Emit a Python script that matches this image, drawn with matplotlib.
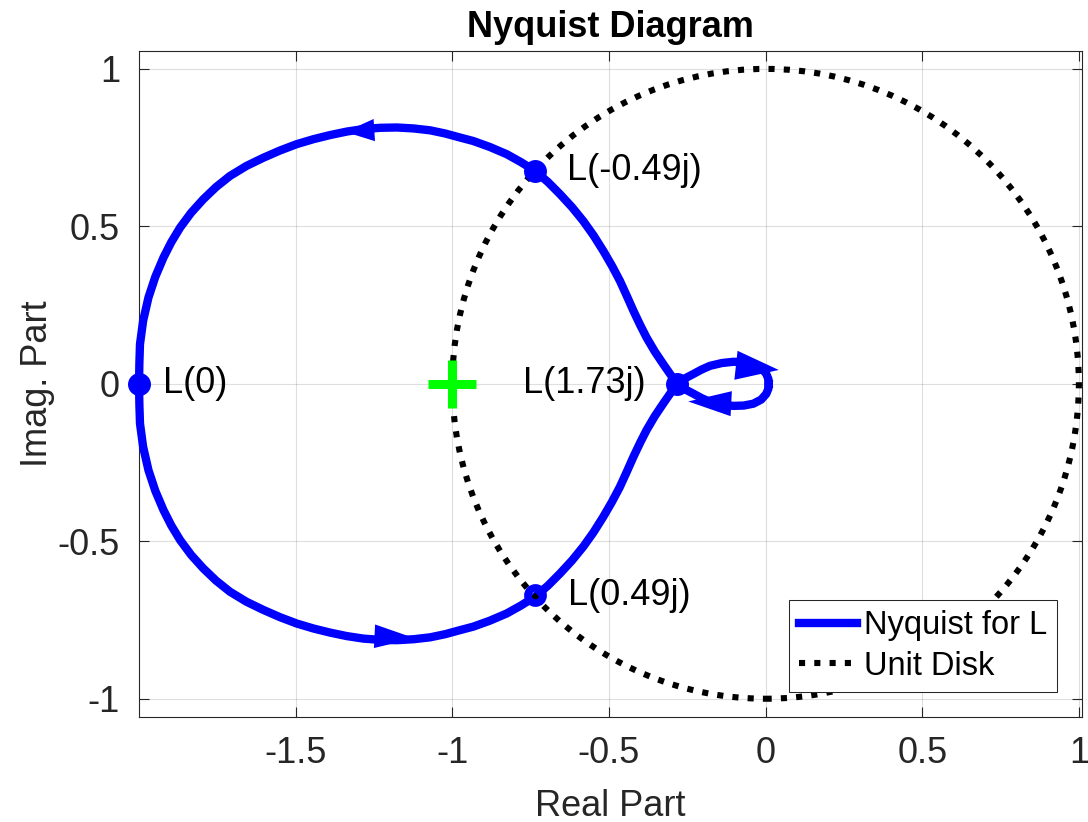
import matplotlib
matplotlib.use('Agg')
import numpy as np
import matplotlib.pyplot as plt
from matplotlib.lines import Line2D
from matplotlib.patches import Circle

plt.rcParams['font.family'] = ['Liberation Sans', 'DejaVu Sans']

# L(jw) for w >= 0 (w < 0 branch is the mirror image)
re_pos = [-2.000, -1.999, -1.997, -1.987, -1.970, -1.948, -1.922, -1.897, -1.869,
          -1.834, -1.795, -1.754, -1.710, -1.657, -1.603, -1.550, -1.497, -1.443,
          -1.390, -1.337, -1.284, -1.230, -1.177, -1.124, -1.071, -1.023, -0.975,
          -0.933, -0.880, -0.826, -0.781, -0.736, -0.695, -0.656, -0.618, -0.582,
          -0.549, -0.518, -0.490, -0.465, -0.443, -0.422, -0.401, -0.380, -0.354,
          -0.327, -0.304, -0.283,
          -0.258, -0.231, -0.205, -0.178, -0.140, -0.103, -0.070, -0.039, -0.014,
          0.002, 0.009, 0.010]
im_pos = [0.000, -0.063, -0.126, -0.200, -0.274, -0.340, -0.401, -0.450, -0.496,
          -0.543, -0.586, -0.625, -0.660, -0.692, -0.718, -0.741, -0.761, -0.777,
          -0.790, -0.801, -0.809, -0.813, -0.814, -0.811, -0.805, -0.795, -0.782,
          -0.771, -0.752, -0.729, -0.704, -0.676, -0.641, -0.602, -0.561, -0.517,
          -0.471, -0.422, -0.374, -0.327, -0.279, -0.232, -0.188, -0.147, -0.103,
          -0.063, -0.030, 0.000,
          0.017, 0.031, 0.045, 0.057, 0.066, 0.070, 0.069, 0.063, 0.050,
          0.032, 0.015, 0.000]

# labelled points
pt_re = [-2.0, -0.736, -0.736, -0.283]
pt_im = [0.0, 0.676, -0.672, 0.0]
pt_txt = ['L(0)', 'L(-0.49j)', 'L(0.49j)', 'L(1.73j)']
txt_re = [-1.923, -0.635, -0.631, -0.383]
txt_ha = ['left', 'left', 'left', 'right']

# direction arrows: tip, tail, head length / width (pt)
arr_tip = [(-1.342, 0.800), (-1.120, -0.808), (0.042, 0.044), (-0.247, -0.056)]
arr_tail = [(-1.150, 0.812), (-1.320, -0.798), (-0.160, 0.066), (-0.050, -0.066)]
arr_len = [21, 29, 31, 31]
arr_wid = [16, 17, 21, 18]

re_full = list(reversed(re_pos)) + re_pos
im_full = [-v for v in reversed(im_pos)] + im_pos

fig = plt.figure(figsize=(10.88, 8.22), dpi=100)
ax = fig.add_axes([0.1278, 0.1281, 0.8667, 0.8099])

dots = (0, (1, 1.5))
nyq, = ax.plot(re_full, im_full, color='blue', lw=6, clip_on=False, zorder=3,
               label='Nyquist for L')
ax.add_patch(Circle((0, 0), 1, fill=False, edgecolor='black', lw=4.4,
                    linestyle=dots, zorder=4))

for (tx, ty), (bx, by), hl, hw in zip(arr_tip, arr_tail, arr_len, arr_wid):
    ax.annotate('', xy=(tx, ty), xytext=(bx, by),
                arrowprops=dict(width=0.01, headwidth=hw, headlength=hl,
                                facecolor='blue', edgecolor='none', shrink=0),
                zorder=5)

for i in range(len(pt_re)):
    if i == 2:
        ax.plot(pt_re[i], pt_im[i], 'o', ms=11, mfc='none', mec='blue', mew=5.4,
                zorder=6, clip_on=False)
    else:
        ax.plot(pt_re[i], pt_im[i], 'o', ms=15.5, color='blue', zorder=6,
                clip_on=False)
    ax.text(txt_re[i], pt_im[i], pt_txt[i], ha=txt_ha[i], va='center',
            fontsize=26, color='black', zorder=7)

ax.plot(-1, 0, '+', color='lime', ms=34, mew=6.5, zorder=8)

ax.set_xlim(-2.0, 1.01)
ax.set_ylim(-1.057, 1.057)
ax.set_xticks([-1.5, -1, -0.5, 0, 0.5, 1])
ax.set_xticklabels(['-1.5', '-1', '-0.5', '0', '0.5', '1'])
ax.set_yticks([-1, -0.5, 0, 0.5, 1])
ax.set_yticklabels(['-1', '-0.5', '0', '0.5', '1'])
ax.tick_params(direction='in', length=7, width=0.8, top=True, right=True,
               labelsize=26, pad=13.7, colors='#262626')
for s in ax.spines.values():
    s.set_color('#262626')
    s.set_linewidth(0.8)
ax.grid(True, color='#262626', alpha=0.15, lw=0.8)
ax.set_axisbelow(True)

ax.set_title('Nyquist Diagram', fontsize=26, fontweight='bold', pad=10)
ax.set_xlabel('Real Part', fontsize=26, color='#262626', labelpad=13)
ax.set_ylabel('Imag. Part', fontsize=26, color='#262626', labelpad=2)

disk = Line2D([], [], color='black', lw=4.4, linestyle=dots)
ax.legend([nyq, disk], ['Nyquist for L', 'Unit Disk'], loc='lower right',
          fontsize=23.5, handlelength=1.8, handletextpad=0.2, borderaxespad=0.77,
          borderpad=0.3, labelspacing=0.3, fancybox=False, framealpha=1,
          edgecolor='#262626').get_frame().set_linewidth(0.75)

fig.savefig('out.png', dpi=100)
